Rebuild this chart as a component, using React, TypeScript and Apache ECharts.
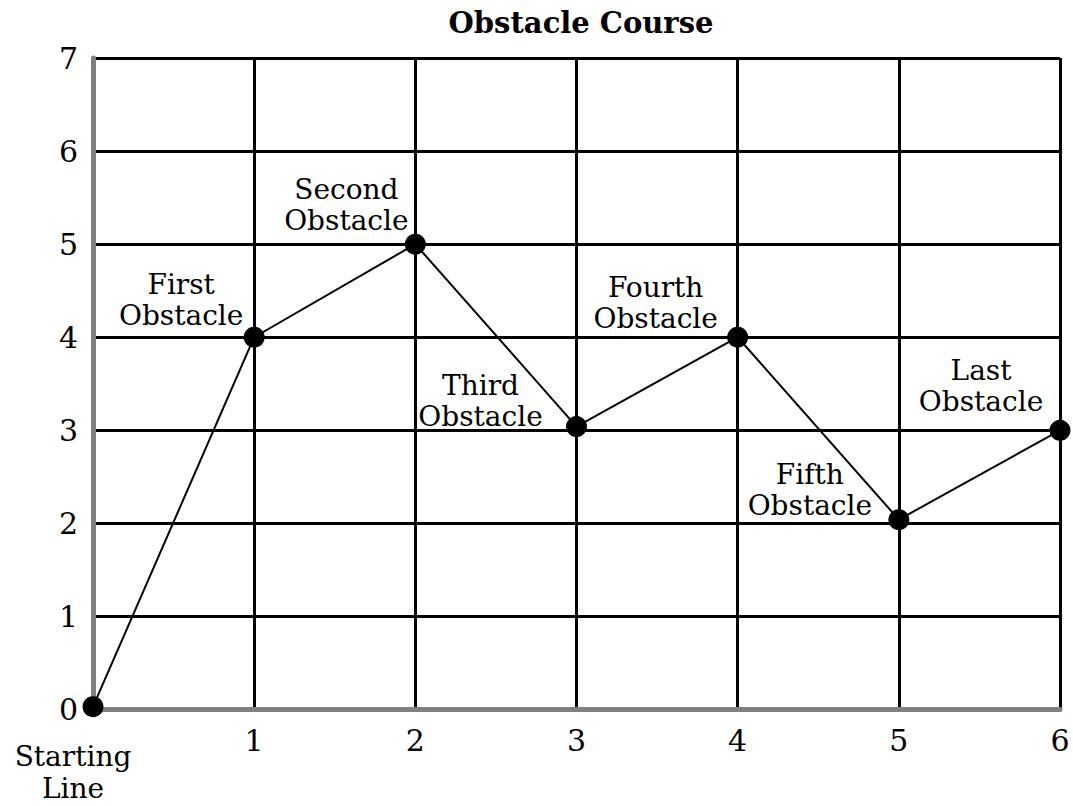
import React, { useEffect, useRef } from "react";
import * as echarts from "echarts";

const xValues = [0, 1, 2, 3, 4, 5, 6];
const yValues = [0.03, 4, 5, 3.04, 4, 2.04, 3];
const pointLabels = [
  "",
  "First\nObstacle",
  "Second\nObstacle",
  "Third\nObstacle",
  "Fourth\nObstacle",
  "Fifth\nObstacle",
  "Last\nObstacle",
];
const startLabel = ["Starting", "Line"];
const titleText = "Obstacle Course";

// layout only (pixel offsets of labels relative to points)
const labelOffsets = [
  [0, 0],
  [-73, -6],
  [-69, -8],
  [-96, 5],
  [-82, -3],
  [-89, 1],
  [-79, -13],
];

const FONT = "'DejaVu Serif', 'Liberation Serif', serif";

export default function App() {
  const ref = useRef<HTMLDivElement>(null);
  useEffect(() => {
    document.body.style.margin = "0";
    const chart = echarts.init(ref.current!, null, { renderer: "svg" });
    const data = xValues.map((x, i) => ({
      value: [x, yValues[i]],
      label: { offset: labelOffsets[i] },
    }));
    const gray = "#808080";
    chart.setOption({
      animation: false,
      backgroundColor: "#fff",
      title: {
        text: titleText,
        left: 576,
        textAlign: "center",
        top: 3,
        textStyle: {
          fontFamily: FONT,
          fontWeight: "bold",
          fontSize: 29,
          color: "#000",
        },
      },
      grid: { left: 93, right: 13, top: 58, bottom: 96.5 },
      xAxis: [
        {
          type: "value",
          min: 0,
          max: 6,
          interval: 1,
          z: 1,
          axisLine: { show: true, lineStyle: { color: gray, width: 5 } },
          axisTick: { show: false },
          splitLine: { show: false },
          axisLabel: {
            margin: 15,
            fontFamily: FONT,
            fontSize: 30,
            lineHeight: 32,
            color: "#000",
            formatter: (v: number) =>
              v === 0
                ? `{gap| }\n{s|${startLabel[0]}}\n{s|${startLabel[1]}}`
                : String(v),
            rich: {
              gap: {
                fontFamily: FONT,
                fontSize: 10,
                lineHeight: 16,
              },
              s: {
                fontFamily: FONT,
                fontSize: 28,
                lineHeight: 32,
                color: "#000",
                padding: [0, 40, 0, 0],
              },
            },
          },
        },
        {
          type: "value",
          min: 0,
          max: 6,
          interval: 1,
          z: 0,
          position: "top",
          axisLine: { show: false },
          axisTick: { show: false },
          axisLabel: { show: false },
          splitLine: { show: true, lineStyle: { color: "#000", width: 3 } },
        },
      ],
      yAxis: [
        {
          type: "value",
          min: 0,
          max: 7,
          interval: 1,
          z: 1,
          axisLine: { show: true, lineStyle: { color: gray, width: 5 } },
          axisTick: { show: false },
          splitLine: { show: false },
          axisLabel: {
            margin: 15,
            fontFamily: FONT,
            fontSize: 30,
            color: "#000",
          },
        },
        {
          type: "value",
          min: 0,
          max: 7,
          interval: 1,
          z: 0,
          position: "right",
          axisLine: { show: false },
          axisTick: { show: false },
          axisLabel: { show: false },
          splitLine: { show: true, lineStyle: { color: "#000", width: 3 } },
        },
      ],
      series: [
        {
          type: "line",
          xAxisIndex: 0,
          yAxisIndex: 0,
          z: 5,
          data,
          symbol: "circle",
          symbolSize: 21,
          itemStyle: { color: "#000" },
          lineStyle: { color: "#000", width: 2 },
          label: {
            show: true,
            position: "inside",
            align: "center",
            verticalAlign: "bottom",
            fontFamily: FONT,
            fontSize: 28,
            lineHeight: 31,
            color: "#000",
            textBorderWidth: 0,
            formatter: (p: any) => pointLabels[p.dataIndex],
          },
        },
      ],
    });
    return () => chart.dispose();
  }, []);
  return <div ref={ref} style={{ width: 1073, height: 806 }} />;
}
